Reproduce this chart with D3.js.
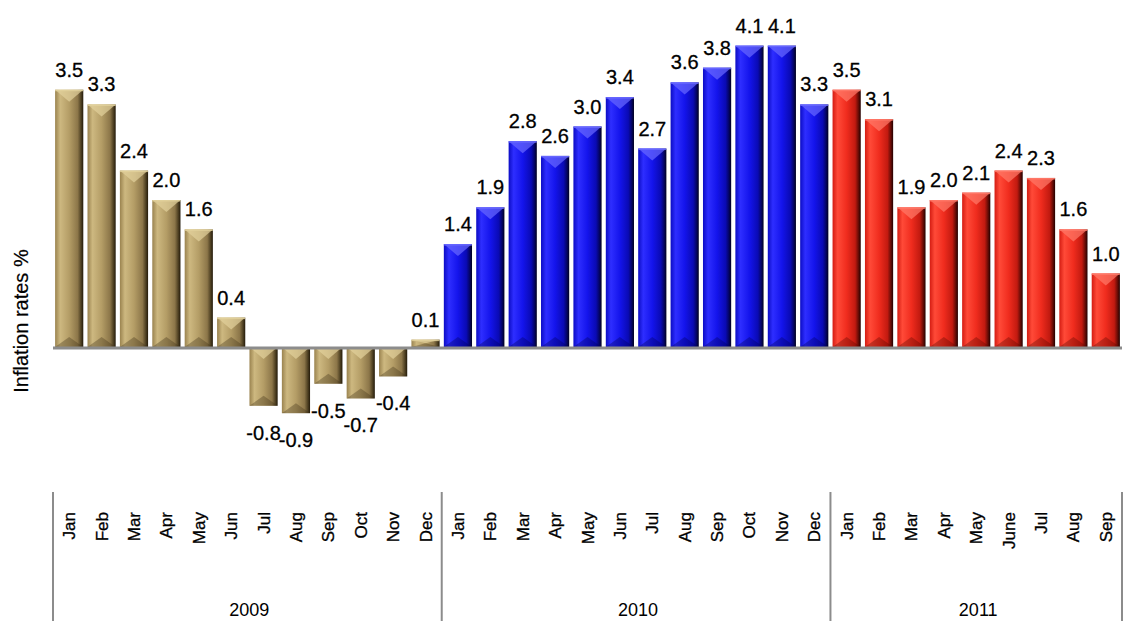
<!DOCTYPE html>
<html>
<head>
<meta charset="utf-8">
<script src="https://cdn.jsdelivr.net/npm/d3@7"></script>
<style>
body { margin: 0; background: #fff; }
text { font-family: "Liberation Sans", Arial, sans-serif; }
</style>
</head>
<body>
<svg id="chart" width="1124" height="621"></svg>
<script>
// data
var years = ["2009", "2010", "2011"];
var months2009 = ["Jan","Feb","Mar","Apr","May","Jun","Jul","Aug","Sep","Oct","Nov","Dec"];
var months2010 = ["Jan","Feb","Mar","Apr","May","Jun","Jul","Aug","Sep","Oct","Nov","Dec"];
var months2011 = ["Jan","Feb","Mar","Apr","May","June","Jul","Aug","Sep"];
var values2009 = [3.5, 3.3, 2.4, 2.0, 1.6, 0.4, -0.8, -0.9, -0.5, -0.7, -0.4, 0.1];
var values2010 = [1.4, 1.9, 2.8, 2.6, 3.0, 3.4, 2.7, 3.6, 3.8, 4.1, 4.1, 3.3];
var values2011 = [3.5, 3.1, 1.9, 2.0, 2.1, 2.4, 2.3, 1.6, 1.0];

var groups = [
	{year: years[0], months: months2009, values: values2009, key: "gold"},
	{year: years[1], months: months2010, values: values2010, key: "blue"},
	{year: years[2], months: months2011, values: values2011, key: "red"}
];

var palette = {
	gold: {stops: ["#9a834f","#cdb880","#b49d66","#8c7649","#4e4022","#231a0a"], top: "#e2d29c", bottom: "#3e3218"},
	blue: {stops: ["#0c0cc4","#2e2eff","#1414ec","#0a0ab4","#040462","#00001e"], top: "#6a6aff", bottom: "#000058"},
	red:  {stops: ["#d41c12","#ff4a38","#f02c1e","#c21a10","#640c06","#220000"], top: "#ff7a6a", bottom: "#5a0800"}
};

var bars = [];
groups.forEach(function(g, gi){
	for (var i = 0; i < g.values.length; i++){
		bars.push({id: bars.length, month: g.months[i], value: g.values[i], key: g.key, group: gi});
	}
});

var svg = d3.select("#chart");

var x = d3.scaleBand()
	.domain(bars.map(function(d){ return d.id; }))
	.range([53, 1122])
	.paddingInner(0.13)
	.paddingOuter(0.065);

var y = d3.scaleLinear().domain([0, 4]).range([347, 53]);

var defs = svg.append("defs");
Object.keys(palette).forEach(function(k){
	var grad = defs.append("linearGradient").attr("id", "body-" + k)
		.attr("x1", "0%").attr("x2", "100%").attr("y1", "0%").attr("y2", "0%");
	var offs = [0, 0.18, 0.5, 0.8, 0.92, 1];
	palette[k].stops.forEach(function(c, i){
		grad.append("stop").attr("offset", offs[i]).attr("stop-color", c);
	});
});

var bw = x.bandwidth();

var barG = svg.append("g").selectAll("g")
	.data(bars)
	.join("g");

barG.append("rect")
	.attr("x", function(d){ return x(d.id); })
	.attr("y", function(d){ return Math.min(y(d.value), y(0)); })
	.attr("width", bw)
	.attr("height", function(d){ return Math.abs(y(d.value) - y(0)); })
	.attr("fill", function(d){ return "url(#body-" + d.key + ")"; });

// bevel on top
barG.append("path")
	.attr("d", function(d){
		var x0 = x(d.id), x1 = x0 + bw, xc = x0 + bw / 2;
		var top = Math.min(y(d.value), y(0));
		var h = Math.abs(y(d.value) - y(0));
		var dep = Math.min(12, h / 2);
		return "M" + x0 + "," + top + "L" + x1 + "," + top + "L" + xc + "," + (top + dep) + "Z";
	})
	.attr("fill", function(d){ return palette[d.key].top; })
	.attr("opacity", 0.7);

// bevel at bottom
barG.append("path")
	.attr("d", function(d){
		var x0 = x(d.id), x1 = x0 + bw, xc = x0 + bw / 2;
		var bot = Math.max(y(d.value), y(0));
		var h = Math.abs(y(d.value) - y(0));
		var dep = Math.min(10, h / 2);
		return "M" + x0 + "," + bot + "L" + x1 + "," + bot + "L" + xc + "," + (bot - dep) + "Z";
	})
	.attr("fill", function(d){ return palette[d.key].bottom; })
	.attr("opacity", 0.35);

// top edge highlight
barG.append("rect")
	.attr("x", function(d){ return x(d.id); })
	.attr("y", function(d){ return Math.min(y(d.value), y(0)); })
	.attr("width", bw)
	.attr("height", 1.5)
	.attr("fill", function(d){ return palette[d.key].top; })
	.attr("opacity", 0.8);

// baseline
svg.append("line")
	.attr("x1", 53).attr("x2", 1122)
	.attr("y1", y(0) + 1).attr("y2", y(0) + 1)
	.attr("stroke", "#8c8c8c").attr("stroke-width", 3);

// value labels
svg.append("g").selectAll("text")
	.data(bars)
	.join("text")
	.attr("x", function(d){ return x(d.id) + bw / 2; })
	.attr("y", function(d){ return d.value >= 0 ? y(d.value) - 13 : y(d.value) + 34; })
	.attr("text-anchor", "middle")
	.attr("font-size", "20px")
	.attr("fill", "#000")
	.attr("stroke", "#000").attr("stroke-width", 0.3)
	.text(function(d){ return d3.format(".1f")(d.value).replace("−", "-"); });

// month labels
svg.append("g").selectAll("text")
	.data(bars)
	.join("text")
	.attr("transform", function(d){ return "translate(" + (x(d.id) + bw / 2 + 6) + ",512) rotate(-90)"; })
	.attr("text-anchor", "end")
	.attr("font-size", "17px")
	.attr("fill", "#000")
	.attr("stroke", "#000").attr("stroke-width", 0.3)
	.text(function(d){ return d.month; });

// year separators and labels
var step = x.step();
var starts = [0, 12, 24, 33];
for (var s = 0; s < starts.length; s++){
	var sx = starts[s] < bars.length ? x(starts[s]) - x.paddingInner() * step / 2 : 1122;
	svg.append("line")
		.attr("x1", sx).attr("x2", sx)
		.attr("y1", 492).attr("y2", 621)
		.attr("stroke", "#8c8c8c").attr("stroke-width", 2);
}
groups.forEach(function(g, gi){
	var a = x(starts[gi]), b = x(starts[gi + 1] - 1) + bw;
	svg.append("text")
		.attr("x", (a + b) / 2 + 2)
		.attr("y", 616)
		.attr("text-anchor", "middle")
		.attr("font-size", "18px")
		.text(g.year);
});

// y axis title
svg.append("text")
	.attr("transform", "translate(28,321) rotate(-90)")
	.attr("text-anchor", "middle")
	.attr("font-size", "20px")
	.attr("stroke", "#000").attr("stroke-width", 0.2)
	.text("Inflation rates %");
</script>
</body>
</html>
